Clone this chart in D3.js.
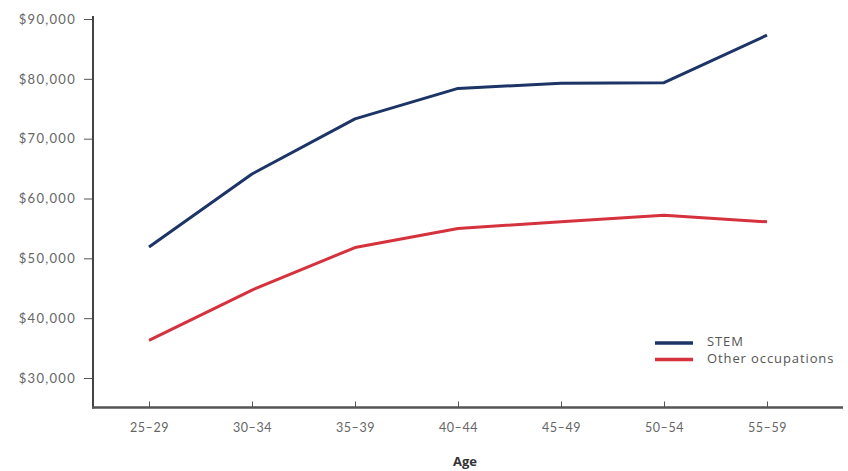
<!DOCTYPE html>
<html>
<head>
<meta charset="utf-8">
<script src="https://cdn.jsdelivr.net/npm/d3@7"></script>
<style>
  html, body { margin: 0; padding: 0; background: #fff; }
  svg { display: block; }
</style>
</head>
<body>
<script>
// Median earnings by age group, STEM vs. other occupations
const ageGroups = ["25–29", "30–34", "35–39", "40–44", "45–49", "50–54", "55–59"];
const stemEarnings = [51900, 64100, 73300, 78400, 79250, 79350, 87300];
const otherEarnings = [36300, 44700, 51800, 55000, 56100, 57200, 56100];
const yTicks = [30000, 40000, 50000, 60000, 70000, 80000, 90000];
const seriesNames = ["STEM", "Other occupations"];
const seriesColors = ["#1c3466", "#d6323d"];

const W = 848, H = 471;
const svg = d3.select("body").append("svg").attr("width", W).attr("height", H);

const axisLeft = 93, axisRight = 843, axisBottom = 407.5;

const x = d3.scalePoint().domain(ageGroups).range([149, 767]);
const y = d3.scaleLinear().domain([30000, 90000]).range([378, 19]);

const labelFont = "Lato, 'Open Sans', sans-serif";

// Y axis
const yAxis = svg.append("g")
  .attr("transform", `translate(${axisLeft},0)`)
  .call(d3.axisLeft(y).tickValues(yTicks).tickSize(9).tickPadding(8)
    .tickFormat(d => "$" + d3.format(",")(d)));
yAxis.select(".domain").remove();
yAxis.selectAll(".tick line").attr("stroke", "#555").attr("stroke-width", 1);
yAxis.selectAll(".tick text")
  .attr("fill", "#666")
  .style("font-family", labelFont)
  .style("font-size", "13px")
  .style("letter-spacing", "1.3px");

svg.append("line")
  .attr("x1", axisLeft).attr("x2", axisLeft)
  .attr("y1", 16).attr("y2", axisBottom + 1)
  .attr("stroke", "#444").attr("stroke-width", 2);

// X axis
const xAxis = svg.append("g")
  .attr("transform", `translate(0,${axisBottom})`)
  .call(d3.axisBottom(x).tickSize(-6).tickPadding(16));
xAxis.select(".domain").remove();
xAxis.selectAll(".tick line").attr("stroke", "#555").attr("stroke-width", 1);
xAxis.selectAll(".tick text")
  .attr("fill", "#666")
  .style("font-family", labelFont)
  .style("font-size", "12.5px")
  .style("letter-spacing", "0.6px");

svg.append("line")
  .attr("x1", axisLeft - 1).attr("x2", axisRight)
  .attr("y1", axisBottom).attr("y2", axisBottom)
  .attr("stroke", "#555").attr("stroke-width", 2.5);

svg.append("text")
  .attr("x", 465).attr("y", 466)
  .attr("text-anchor", "middle")
  .attr("fill", "#333")
  .style("font-family", "'Open Sans', sans-serif")
  .style("font-weight", "bold")
  .style("font-size", "13px")
  .text("Age");

// Lines
const line = d3.line()
  .x((d, i) => x(ageGroups[i]))
  .y(d => y(d));

[stemEarnings, otherEarnings].forEach((vals, k) => {
  svg.append("path")
    .datum(vals)
    .attr("d", line)
    .attr("fill", "none")
    .attr("stroke", seriesColors[k])
    .attr("stroke-width", 3)
    .attr("stroke-linejoin", "round");
});

// Legend
const legend = svg.append("g").attr("transform", "translate(655,343)");
seriesNames.forEach((name, k) => {
  const g = legend.append("g").attr("transform", `translate(0,${k * 16.5})`);
  g.append("line")
    .attr("x1", 0).attr("x2", 38)
    .attr("stroke", seriesColors[k]).attr("stroke-width", 3.5);
  g.append("text")
    .attr("x", 52).attr("y", 3)
    .attr("fill", "#555")
    .style("font-family", "'Open Sans', sans-serif")
    .style("font-size", "13px")
    .style("letter-spacing", "0.9px")
    .text(name);
});
</script>
</body>
</html>
